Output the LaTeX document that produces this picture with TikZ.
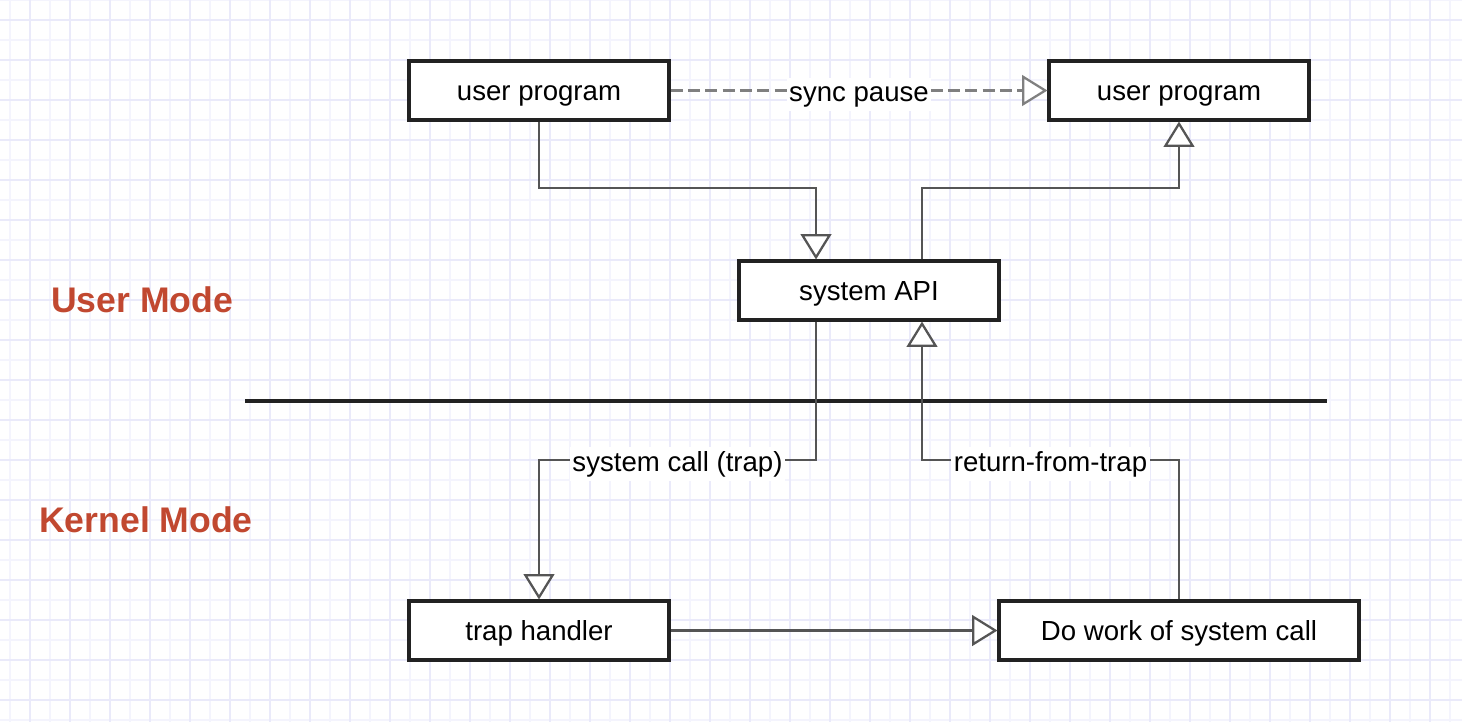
\documentclass[tikz,border=0pt]{standalone}
\usepackage{fontspec}
\setmainfont{Liberation Sans}
\usetikzlibrary{arrows.meta,calc}
\definecolor{gridlight}{RGB}{244,244,253}
\definecolor{gridmid}{RGB}{234,234,250}
\definecolor{boxline}{RGB}{34,34,34}
\definecolor{connline}{RGB}{85,85,85}
\definecolor{dashline}{RGB}{128,128,128}
\definecolor{modered}{RGB}{193,72,48}
\tikzset{
  box/.style={draw=boxline, line width=2.3pt, fill=white, minimum width=195pt, minimum height=44.25pt, inner sep=0pt, text height=14.8pt, text depth=0pt, font=\fontsize{20.7}{24}\selectfont},
  widebox/.style={box, minimum width=270pt},
  conn/.style={draw=connline, line width=1.9pt, -{Triangle[open, fill=white, length=19pt, width=23pt, line width=1.7pt]}},
  syncline/.style={conn, draw=dashline, line width=2.1pt, dash pattern=on 9pt off 4pt},
  lbl/.style={fill=white, inner xsep=2pt, inner ysep=3pt, text height=14.8pt, text depth=4.2pt, font=\fontsize{20.7}{24}\selectfont, text=black},
  mode/.style={text=modered, font=\fontsize{26.7}{30}\selectfont\bfseries},
  divider/.style={draw=boxline, line width=2.4pt}
}
\begin{document}
\begin{tikzpicture}[x=0.75pt, y=-0.75pt]
\useasboundingbox (0,0) rectangle (1462,722);
\fill[white] (0,0) rectangle (1462,722);
% grid
\foreach \gx in {10,50,...,1450} \draw[gridlight, line width=1.2pt] (\gx,0) -- (\gx,722);
\foreach \gy in {0,40,...,720} \draw[gridlight, line width=1.2pt] (0,\gy) -- (1462,\gy);
\foreach \gx in {30,70,...,1450} \draw[gridmid, line width=1.2pt] (\gx,0) -- (\gx,722);
\foreach \gy in {20,60,...,720} \draw[gridmid, line width=1.2pt] (0,\gy) -- (1462,\gy);

% nodes
\node[box] (up1) at (539,90.5) {user program};
\node[box] (up2) at (1179,90.5) {user program};
\node[box] (api) at (869,290.5) {system API};
\node[box] (th) at (539,630.5) {trap handler};
\node[widebox] (dw) at (1179,630.5) {Do work of system call};

\node[mode] (um) at (142,300) {User Mode};
\node[mode] (km) at (146,520) {Kernel Mode};

\draw[divider] (245,401) -- (1327,401);

% junctions
\coordinate (j1) at (816,188);
\coordinate (j2) at (922,188);
\coordinate (j3) at (816,460);
\coordinate (j4) at (922,460);

% connectors
\draw[syncline] (up1.east) -- node[lbl, yshift=-3pt]{sync pause} (up2.west);
\draw[conn] (up1.south) |- (j1) -- (j1 |- api.north);
\draw[conn] (j2 |- api.north) -- (j2) -| (up2.south);
\draw[conn] (j3 |- api.south) -- (j3) -| node[lbl, pos=0.25, yshift=-3pt]{system call (trap)} (th.north);
\draw[conn] (dw.north) |- node[lbl, pos=0.75, yshift=-3pt]{return-from-trap} (j4) -- (j4 |- api.south);
\draw[conn] (th.east) -- (dw.west);
\end{tikzpicture}
\end{document}
